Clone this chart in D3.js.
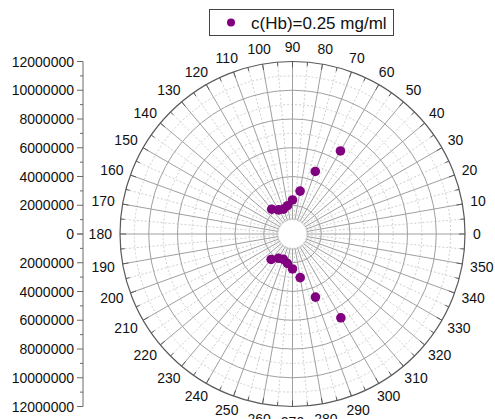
<!DOCTYPE html>
<html><head><meta charset="utf-8">
<script src="https://cdn.jsdelivr.net/npm/d3@7/dist/d3.min.js"></script>
<style>body{margin:0;background:#fff}svg{display:block}</style>
</head><body>
<svg id="c" width="495" height="419"></svg>
<script>
// Data (angle in degrees, radial value)
const angles = [60, 70, 80, 90, 100, 110, 120, 130, 230, 240, 250, 260, 270, 280, 290, 300];
const values = [6670000, 4630000, 3030000, 2370000, 2000000, 1840000, 1940000, 2250000,
                2310000, 1950000, 1870000, 2070000, 2430000, 3080000, 4670000, 6730000];
const seriesName = "c(Hb)=0.25 mg/ml";
const radialTicks = [0, 2000000, 4000000, 6000000, 8000000, 10000000, 12000000];
const angleTicks = d3.range(0, 360, 10);

const svg = d3.select("#c");
const W = 495, H = 419;
const cx = 292.5, cy = 234, R = 172.5;
const font = "'Liberation Sans', Arial, sans-serif";

const r = d3.scaleLinear().domain([0, 12000000]).range([0, R]);
const a = d => d * Math.PI / 180;
const px = (deg, rad) => cx + rad * Math.cos(a(deg));
const py = (deg, rad) => cy - rad * Math.sin(a(deg));

const g = svg.append("g");
const innerR = r(1000000);

// minor circles (dashed)
g.selectAll(".minc").data(d3.range(1000000, 12000000, 2000000)).join("circle")
  .attr("cx", cx).attr("cy", cy).attr("r", d => r(d))
  .attr("fill", "none").attr("stroke", "#d0d0d0").attr("stroke-width", 1).attr("stroke-dasharray", "2,2");
// minor spokes (dashed)
g.selectAll(".mins").data(d3.range(5, 360, 10)).join("line")
  .attr("x1", d => px(d, innerR)).attr("y1", d => py(d, innerR))
  .attr("x2", d => px(d, R)).attr("y2", d => py(d, R))
  .attr("stroke", "#d0d0d0").attr("stroke-width", 1).attr("stroke-dasharray", "2,2");
// major circles
g.selectAll(".majc").data(radialTicks.filter(d => d > 0 && d < 12000000)).join("circle")
  .attr("cx", cx).attr("cy", cy).attr("r", d => r(d))
  .attr("fill", "none").attr("stroke", "#a0a0a0").attr("stroke-width", 1);
// major spokes
g.selectAll(".majs").data(angleTicks).join("line")
  .attr("x1", d => px(d, innerR)).attr("y1", d => py(d, innerR))
  .attr("x2", d => px(d, R)).attr("y2", d => py(d, R))
  .attr("stroke", "#a0a0a0").attr("stroke-width", 1);
// outer circle
g.append("circle").attr("cx", cx).attr("cy", cy).attr("r", R)
  .attr("fill", "none").attr("stroke", "#5a5a5a").attr("stroke-width", 1.2);
// outer ticks (inward)
g.selectAll(".otk").data(d3.range(0, 360, 5)).join("line")
  .attr("x1", d => px(d, R)).attr("y1", d => py(d, R))
  .attr("x2", d => px(d, R - (d % 10 === 0 ? 6 : 4))).attr("y2", d => py(d, R - (d % 10 === 0 ? 6 : 4)))
  .attr("stroke", "#5a5a5a").attr("stroke-width", 1);

// angle labels
const lr = R + 8;
g.selectAll(".al").data(angleTicks).join("text")
  .attr("x", d => px(d, lr) + Math.cos(a(d)) * (String(d).length * 7.8) / 2)
  .attr("y", d => py(d, lr) - Math.sin(a(d)) * 7)
  .attr("text-anchor", "middle").attr("dominant-baseline", "central")
  .attr("font-family", font).attr("font-size", 14).attr("fill", "#111")
  .text(d => d);

// left radial axis
const ax = 83;
const yUp = d3.scaleLinear().domain([0, 12000000]).range([cy, cy - R]);
const yDn = d3.scaleLinear().domain([0, 12000000]).range([cy, cy + R]);
const axG = svg.append("g");
axG.append("line").attr("x1", ax).attr("x2", ax).attr("y1", cy - R).attr("y2", cy + R)
  .attr("stroke", "#6a6a6a").attr("stroke-width", 1);
const minorVals = d3.range(1000000, 12000000, 2000000);
[yUp, yDn].forEach(sc => {
  axG.selectAll(null).data(radialTicks).join("line")
    .attr("x1", ax - 6).attr("x2", ax).attr("y1", d => sc(d)).attr("y2", d => sc(d))
    .attr("stroke", "#6a6a6a");
  axG.selectAll(null).data(minorVals).join("line")
    .attr("x1", ax - 3).attr("x2", ax).attr("y1", d => sc(d)).attr("y2", d => sc(d))
    .attr("stroke", "#6a6a6a");
  axG.selectAll(null).data(radialTicks.filter(d => sc === yUp || d > 0)).join("text")
    .attr("x", ax - 9).attr("y", d => sc(d)).attr("text-anchor", "end")
    .attr("dominant-baseline", "central").attr("font-family", font).attr("font-size", 14)
    .attr("fill", "#111").text(d => d);
});

// points
svg.append("g").selectAll("circle").data(angles.map((d, i) => ({ang: d, v: values[i]}))).join("circle")
  .attr("cx", d => px(d.ang, r(d.v))).attr("cy", d => py(d.ang, r(d.v)))
  .attr("r", 4.8).attr("fill", "#800080");

// legend
const lg = svg.append("g");
lg.append("rect").attr("x", 209.5).attr("y", 9.5).attr("width", 184).attr("height", 26)
  .attr("fill", "#fff").attr("stroke", "#444").attr("stroke-width", 1);
lg.append("circle").attr("cx", 231).attr("cy", 22.5).attr("r", 4).attr("fill", "#800080");
lg.append("text").attr("x", 251).attr("y", 23).attr("dominant-baseline", "central")
  .attr("font-family", font).attr("font-size", 17).attr("fill", "#111").text(seriesName);
</script>
</body></html>
